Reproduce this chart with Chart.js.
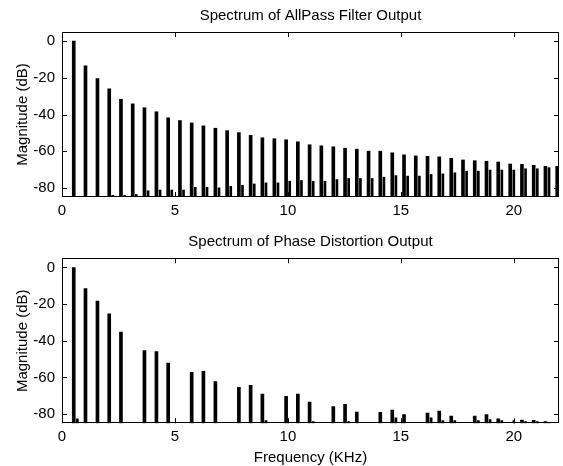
<!DOCTYPE html>
<html>
<head>
<meta charset="utf-8">
<script src="https://cdn.jsdelivr.net/npm/chart.js@4.4.1/dist/chart.umd.min.js"></script>
<style>
    body { margin: 0; background: #fff; }
    .box { position: absolute; left: 0; width: 563px; }
</style>
</head>
<body>
<div class="box" style="top:0;height:228px"><canvas id="topChart"></canvas></div>
<div class="box" style="top:228px;height:238px"><canvas id="bottomChart"></canvas></div>
<script>
// --- Data ---
// harmonic frequencies, KHz
const harmonicKHz = [0.52, 1.04, 1.57, 2.09, 2.61, 3.13, 3.65, 4.18, 4.70, 5.22,
    5.74, 6.26, 6.79, 7.31, 7.83, 8.35, 8.87, 9.40, 9.92, 10.44,
    10.96, 11.48, 12.01, 12.53, 13.05, 13.57, 14.09, 14.62, 15.14, 15.66,
    16.18, 16.70, 17.23, 17.75, 18.27, 18.79, 19.31, 19.84, 20.36, 20.88,
    21.40, 21.92];
// small side components just right of each harmonic, KHz
const sideKHz = [0.68, 1.20, 1.73, 2.25, 2.77, 3.29, 3.81, 4.34, 4.86, 5.38,
    5.90, 6.42, 6.95, 7.47, 7.99, 8.51, 9.03, 9.56, 10.08, 10.60,
    11.12, 11.64, 12.17, 12.69, 13.21, 13.73, 14.25, 14.78, 15.30, 15.82,
    16.34, 16.86, 17.39, 17.91, 18.43, 18.95, 19.47, 20.00, 20.52, 21.04,
    21.56, 22.08];

// AllPass filter output, dB
const allpassPeaks = [0, -13.4, -20.4, -26, -31.7, -34.2, -36.3, -38.5, -41.8, -43.3,
    -44.6, -46.2, -47.5, -48.8, -49.9, -51.4, -52.7, -53.2, -53.8, -54.9,
    -56.5, -57.1, -57.6, -58.4, -58.9, -60, -60, -60.9, -62, -62.6,
    -62.8, -63.1, -63.9, -64.8, -65.2, -65.5, -65.9, -67, -67.2, -67.7,
    -68.3, -68.3];
const allpassSide = [null, null, null, -84.1, -84.1, -83.6, -81.6, -81.2, -81.2, -81.2,
    -79.7, -79.7, -80, -79.2, -78.6, -77.9, -77.3, -77.3, -76.4, -76,
    -76.4, -76.4, -75.5, -74.9, -74.9, -74.9, -74.2, -73.3, -73.6, -73.6,
    -72.7, -72.4, -71.8, -70.9, -70.9, -70.3, -70.3, -70.3, -69.6, -69.6,
    -69, null];

// Phase distortion output, dB
const phasePeaks = [0, -11.5, -18.4, -25.3, -35.3, null, -45.3, -45.9, -52.2, null,
    -57.2, -56.6, -62.3, null, -65.4, -64.3, -69, null, -70.3, -69,
    -73.4, null, -75.9, -74.7, -78.9, null, -79, -77.8, -80.3, null,
    -79.4, -78.3, -81, null, -81, -80.3, -82.5, null, -83.2, -83.4,
    -84, null];
const phaseSide = [-82.5, null, null, null, null, null, null, null, null, null,
    null, null, null, null, null, null, -83.5, null, null, null,
    -84, null, null, -84, null, null, null, -82, null, null,
    -82, -83.5, -83.5, null, -83.5, -83, -83.5, -83.5, -84, -84,
    -84.5, null];

const xTicks = [0, 5, 10, 15, 20];
const yTicks = [-80, -60, -40, -20, 0];

// --- Helpers ---
function toPoints(xs, ys){
    return xs.map((x, i) => ({x: x, y: ys[i]})).filter(p => p.y !== null);
}

const FONT = 'Liberation Sans, Arial, Helvetica, sans-serif';

// box with inward tick marks, MATLAB style
const boxPlugin = {
    id: 'box',
    afterDraw(chart){
        const {ctx, chartArea: a, scales} = chart;
        ctx.save();
        ctx.strokeStyle = '#000';
        ctx.lineWidth = 1;
        ctx.strokeRect(Math.round(a.left) + 0.5, Math.round(a.top) + 0.5,
            Math.round(a.right - a.left) - 1, Math.round(a.bottom - a.top) - 1);
        ctx.beginPath();
        xTicks.forEach(v => {
            const x = Math.round(scales.x.getPixelForValue(v)) + 0.5;
            ctx.moveTo(x, a.bottom); ctx.lineTo(x, a.bottom - 5);
            ctx.moveTo(x, a.top); ctx.lineTo(x, a.top + 5);
        });
        yTicks.forEach(v => {
            const y = Math.round(scales.y.getPixelForValue(v)) + 0.5;
            ctx.moveTo(a.left, y); ctx.lineTo(a.left + 5, y);
            ctx.moveTo(a.right, y); ctx.lineTo(a.right - 5, y);
        });
        ctx.stroke();
        ctx.restore();
    }
};

function makeChart(id, title, peaks, side, opts){
    const ctx = document.getElementById(id).getContext('2d');
    return new Chart(ctx, {
        type: 'bar',
        data: {
            datasets: [
                {data: toPoints(harmonicKHz, peaks), backgroundColor: '#000', barThickness: 3, base: -85, grouped: false},
                {data: toPoints(sideKHz, side), backgroundColor: '#000', barThickness: 2, base: -85, grouped: false}
            ]
        },
        options: {
            responsive: true,
            maintainAspectRatio: false,
            animation: false,
            layout: {padding: {left: 0, right: 4, top: 0, bottom: 0}},
            plugins: {
                legend: {display: false},
                tooltip: {enabled: false},
                title: {
                    display: true, text: title, color: '#000', fullSize: false,
                    font: {family: FONT, size: 15, weight: 'normal', lineHeight: 1.2},
                    padding: opts.titlePad
                }
            },
            scales: {
                x: {
                    type: 'linear', min: 0, max: 22, offset: false,
                    grid: {display: false, offset: false, drawTicks: false},
                    border: {display: false},
                    afterBuildTicks: s => { s.ticks = xTicks.map(v => ({value: v})); },
                    afterFit: s => { s.height = opts.xHeight; },
                    ticks: {color: '#000', padding: 5, maxRotation: 0, font: {family: FONT, size: 15}},
                    title: opts.xTitle
                },
                y: {
                    min: -85, max: 5,
                    grid: {display: false, drawTicks: false},
                    border: {display: false},
                    afterBuildTicks: s => { s.ticks = yTicks.map(v => ({value: v})); },
                    afterFit: s => { s.width = 62; },
                    ticks: {color: '#000', padding: 7, font: {family: FONT, size: 15}},
                    title: {
                        display: true, text: 'Magnitude (dB)', color: '#000',
                        font: {family: FONT, size: 15, lineHeight: 1.2},
                        padding: {top: 14, bottom: 0}
                    }
                }
            }
        },
        plugins: [boxPlugin]
    });
}

// --- Render ---
makeChart('topChart', 'Spectrum of AllPass Filter Output', allpassPeaks, allpassSide, {
    titlePad: {top: 7, bottom: 7},
    xHeight: 31,
    xTitle: {display: false}
});
makeChart('bottomChart', 'Spectrum of Phase Distortion Output', phasePeaks, phaseSide, {
    titlePad: {top: 5, bottom: 7.3},
    xHeight: 42.7,
    xTitle: {
        display: true, text: 'Frequency (KHz)', color: '#000',
        font: {family: FONT, size: 15, lineHeight: 1},
        padding: {top: 0, bottom: 0.2}
    }
});
</script>
</body>
</html>
